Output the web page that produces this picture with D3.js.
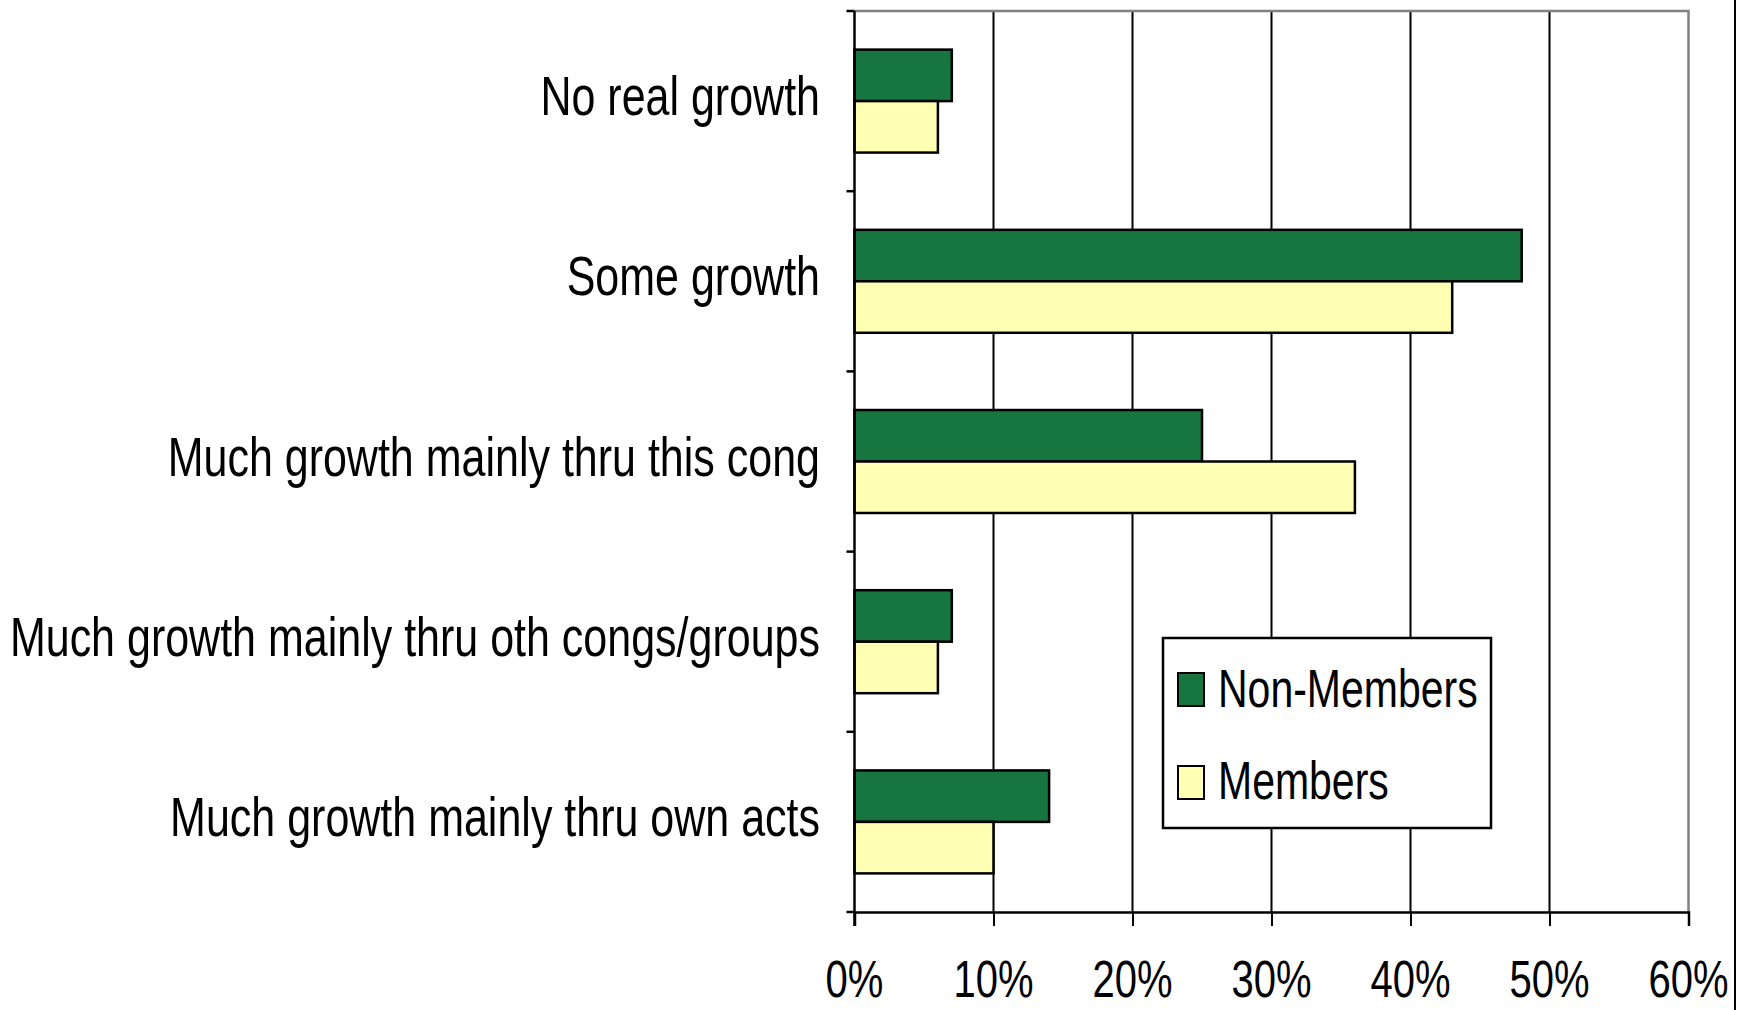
<!DOCTYPE html>
<html>
<head>
<meta charset="utf-8">
<script src="https://cdn.jsdelivr.net/npm/d3@7"></script>
<style>
	body { margin: 0; background: #fff; }
	svg { display: block; }
	text { font-family: 'Liberation Sans', Arial, sans-serif; fill: #000; }
</style>
</head>
<body>
<svg id="chart" width="1740" height="1010"></svg>
<script>
//Chart data
const categories = [
	'No real growth',
	'Some growth',
	'Much growth mainly thru this cong',
	'Much growth mainly thru oth congs/groups',
	'Much growth mainly thru own acts',
]
const seriesNames = ['Non-Members', 'Members']
const nonMembers = [7, 48, 25, 7, 14]
const members = [6, 43, 36, 6, 10]
const xTicks = [0, 10, 20, 30, 40, 50, 60]

const colors = { 'Non-Members': '#177640', Members: '#ffffb4' }
const stretch = 1.3

const svg = d3.select('#chart')
const plot = { left: 854.5, right: 1688.5, top: 11, bottom: 912 }

//Scales
const x = d3.scaleLinear().domain([0, 60]).range([plot.left, plot.right])
const y = d3.scaleBand().domain(categories).range([plot.top, plot.bottom])
const inner = d3.scaleBand().domain(seriesNames).range([0, y.bandwidth()]).paddingOuter(0.75)

const rows = categories.map((c, i) => ({ category: c, 'Non-Members': nonMembers[i], Members: members[i] }))

//Stretched text helper, the original font is tall and narrow
function stretchedText(parent, tx, ty, str, size, anchor) {
	return parent
		.append('g')
		.attr('transform', 'translate(' + tx + ',' + ty + ') scale(1,' + stretch + ')')
		.append('text')
		.attr('text-anchor', anchor)
		.style('font-size', size + 'px')
		.text(str)
}

//Vertical gridlines
svg
	.append('g')
	.selectAll('line')
	.data(xTicks.slice(1, -1))
	.enter()
	.append('line')
	.attr('x1', d => x(d))
	.attr('x2', d => x(d))
	.attr('y1', plot.top)
	.attr('y2', plot.bottom)
	.attr('stroke', '#000')
	.attr('stroke-width', 2)

//Plot area border (top and right) in grey
svg
	.append('path')
	.attr('d', 'M' + plot.left + ',' + plot.top + 'H' + plot.right + 'V' + plot.bottom)
	.attr('fill', 'none')
	.attr('stroke', '#808080')
	.attr('stroke-width', 2.5)

//Bars
const groups = svg
	.append('g')
	.selectAll('g')
	.data(rows)
	.enter()
	.append('g')
	.attr('transform', d => 'translate(0,' + y(d.category) + ')')

groups
	.selectAll('rect')
	.data(d => seriesNames.map(s => ({ series: s, value: d[s] })))
	.enter()
	.append('rect')
	.attr('x', x(0))
	.attr('y', d => inner(d.series))
	.attr('width', d => x(d.value) - x(0))
	.attr('height', inner.bandwidth())
	.attr('fill', d => colors[d.series])
	.attr('stroke', '#000')
	.attr('stroke-width', 2.5)

//X axis
const xAxis = svg
	.append('g')
	.attr('transform', 'translate(0,' + plot.bottom + ')')
	.call(d3.axisBottom(x).tickValues(xTicks).tickSize(14).tickFormat(''))

xAxis.select('.domain').attr('stroke-width', 2.5)
xAxis.selectAll('.tick line').attr('stroke-width', 2)

xTicks.forEach(t => stretchedText(svg, x(t), 997, t + '%', 40, 'middle'))

//Y axis with ticks on the band edges
const yEdges = categories.map(c => y(c)).concat([plot.bottom])

svg
	.append('line')
	.attr('x1', plot.left)
	.attr('x2', plot.left)
	.attr('y1', plot.top)
	.attr('y2', plot.bottom + 14)
	.attr('stroke', '#000')
	.attr('stroke-width', 2.5)

svg
	.append('g')
	.selectAll('line')
	.data(yEdges)
	.enter()
	.append('line')
	.attr('x1', plot.left - 8)
	.attr('x2', plot.left)
	.attr('y1', d => d)
	.attr('y2', d => d)
	.attr('stroke', '#000')
	.attr('stroke-width', 2.5)

categories.forEach(c => stretchedText(svg, 820, y(c) + y.bandwidth() / 2 + 14, c, 43, 'end'))

//Legend
const legend = svg.append('g').attr('transform', 'translate(1163,638)')

legend
	.append('rect')
	.attr('width', 328)
	.attr('height', 190)
	.attr('fill', '#fff')
	.attr('stroke', '#000')
	.attr('stroke-width', 2.5)

seriesNames.forEach((s, i) => {
	legend
		.append('rect')
		.attr('x', 15)
		.attr('y', 35 + i * 93)
		.attr('width', 26)
		.attr('height', 33)
		.attr('fill', colors[s])
		.attr('stroke', '#000')
		.attr('stroke-width', 2)
	stretchedText(legend, 55, 69 + i * 92, s, 41, 'start')
})

//Outer chart border on the right
svg
	.append('line')
	.attr('x1', 1735)
	.attr('x2', 1735)
	.attr('y1', 0)
	.attr('y2', 1010)
	.attr('stroke', '#000')
	.attr('stroke-width', 2)
</script>
</body>
</html>
